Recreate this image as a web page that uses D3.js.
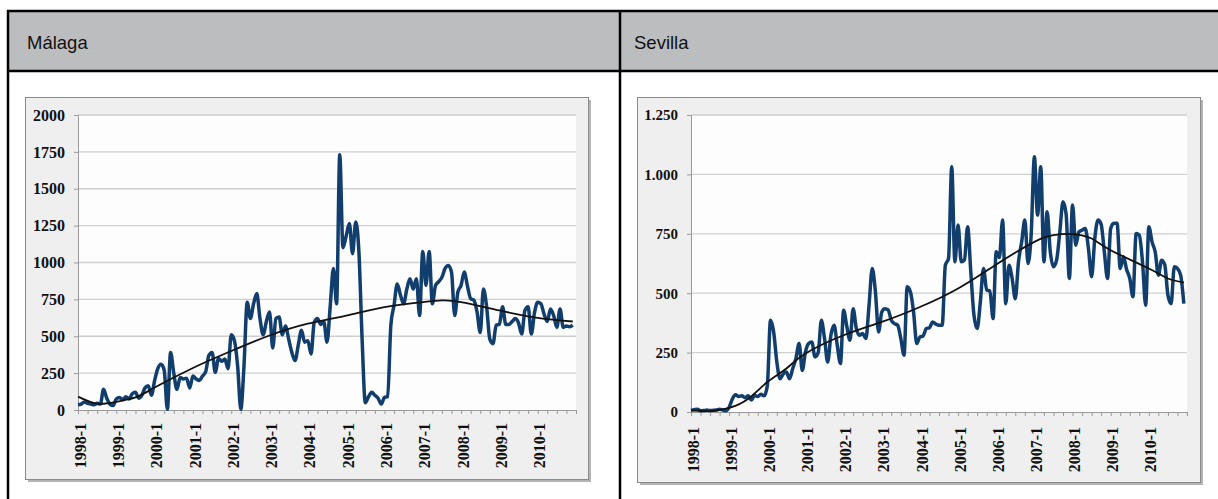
<!DOCTYPE html>
<html>
<head>
<meta charset="utf-8">
<script src="https://cdn.jsdelivr.net/npm/d3@7"></script>
<style>
  body { margin: 0; background: #fff; }
  svg { display: block; }
</style>
</head>
<body>
<div id="tabla"></div>
<script>
// etiquetas del eje x (una cada 12 meses, de 1998-1 a 2010-1)
const xTickLabels = ["1998-1","1999-1","2000-1","2001-1","2002-1","2003-1","2004-1",
                     "2005-1","2006-1","2007-1","2008-1","2009-1","2010-1"];

// valores mensuales 1998-1 .. 2010-12
const malagaValues = [
  35,40,55,45,40,35,45,40,140,80,40,30,
  75,85,70,90,75,110,120,80,100,150,165,100,
  200,280,310,270,5,390,250,140,220,210,215,150,
  230,210,200,230,260,370,390,255,350,330,345,280,
  510,470,300,5,300,730,620,720,790,620,510,600,
  665,420,620,630,510,570,480,390,335,440,540,460,
  470,380,595,620,580,600,460,700,960,720,1730,1100,
  1180,1265,1060,1275,1070,480,50,90,120,100,80,40,
  85,90,575,710,855,780,720,820,890,820,890,640,
  1075,845,1075,720,845,870,900,960,980,935,640,800,
  845,935,840,755,745,665,525,820,700,480,450,575,
  580,700,580,580,600,620,590,515,675,700,515,660,
  730,720,650,600,685,640,560,685,560,570,565,575
];
const sevillaValues = [
  7,10,12,5,6,8,6,7,8,12,8,5,
  20,55,73,65,68,60,68,50,70,65,75,68,
  110,386,337,210,140,160,168,140,183,225,288,175,
  253,288,295,232,250,386,309,210,323,365,281,204,
  428,360,302,435,351,323,330,309,450,604,506,337,
  421,435,430,386,372,365,309,239,527,506,421,288,
  316,320,351,355,379,370,365,365,618,646,1032,632,
  787,632,640,780,590,407,351,463,604,513,510,393,
  674,650,808,456,618,562,477,632,716,808,625,750,
  1074,829,1032,632,843,674,611,640,758,885,830,562,
  871,702,758,765,772,688,569,730,808,790,674,562,
  772,794,794,604,653,600,562,485,751,744,632,449,
  780,716,674,576,639,620,492,456,611,604,576,456
];

// linea de tendencia (mes, valor)
const malagaTrendMonths = [0,6,12,18,24,36,48,60,72,84,96,108,114,120,132,144,155];
const malagaTrendValues = [91,43,55,85,152,285,400,505,585,640,698,732,743,732,675,625,600];
const sevillaTrendMonths = [0,6,12,18,24,30,36,48,60,72,84,96,108,114,120,126,132,144,150,155];
const sevillaTrendValues = [7,4,17,56,126,183,246,323,379,442,520,621,716,744,749,730,681,604,562,545];

const malagaYTicks = [0,250,500,750,1000,1250,1500,1750,2000];
const sevillaYTicks = [0,250,500,750,1000,1250];

var width = 1218;
var height = 499;

var svg = d3.select("#tabla")
    .append("svg")
    .attr("width", width)
    .attr("height", height);

// cabecera gris de la tabla
svg.append("rect")
    .attr("x", 8).attr("y", 11)
    .attr("width", width).attr("height", 60)
    .attr("fill", "#bcbdbf");

svg.append("text").attr("x", 27).attr("y", 49)
    .style("font-family", "Liberation Sans, Arial, sans-serif")
    .style("font-size", "18.5px").attr("fill", "#111")
    .text("Málaga");
svg.append("text").attr("x", 634).attr("y", 49)
    .style("font-family", "Liberation Sans, Arial, sans-serif")
    .style("font-size", "18.5px").attr("fill", "#111")
    .text("Sevilla");

// bordes de la tabla
var lineas = [
    [7, 11, width, 11],
    [7, 71, width, 71],
    [8, 10, 8, height],
    [620, 10, 620, height]
];
svg.selectAll("line.borde")
    .data(lineas)
    .enter()
    .append("line")
    .attr("class", "borde")
    .attr("x1", d => d[0]).attr("y1", d => d[1])
    .attr("x2", d => d[2]).attr("y2", d => d[3])
    .attr("stroke", "#000")
    .attr("stroke-width", 2.5);

var esLocale = d3.formatLocale({decimal: ",", thousands: ".", grouping: [3], currency: ["", ""]});

function crtajGrafico(cfg){
    var g = svg.append("g");

    // marco con sombra
    g.append("rect")
        .attr("x", cfg.frame[0] + 3).attr("y", cfg.frame[1] + 3)
        .attr("width", cfg.frame[2]).attr("height", cfg.frame[3])
        .attr("fill", "#b4b4b4");
    g.append("rect")
        .attr("x", cfg.frame[0] + 0.5).attr("y", cfg.frame[1] + 0.5)
        .attr("width", cfg.frame[2]).attr("height", cfg.frame[3])
        .attr("fill", "#efefef")
        .attr("stroke", "#8a8a8a");

    var x = d3.scaleLinear()
        .domain([0, 156])
        .range([cfg.left, cfg.right]);

    var y = d3.scaleLinear()
        .domain([0, d3.max(cfg.yTicks)])
        .range([cfg.bottom, cfg.top]);

    g.append("rect")
        .attr("x", cfg.left).attr("y", cfg.top)
        .attr("width", cfg.right - cfg.left).attr("height", cfg.bottom - cfg.top)
        .attr("fill", "#fdfdfd");

    // lineas de cuadricula
    g.append("g")
        .selectAll("line")
        .data(cfg.yTicks.filter(d => d > 0))
        .enter()
        .append("line")
        .attr("x1", cfg.left).attr("x2", cfg.right)
        .attr("y1", d => y(d)).attr("y2", d => y(d))
        .attr("stroke", "#cfcfcf")
        .attr("stroke-width", 1.3);

    // eje y
    var ejeY = g.append("g")
        .attr("transform", "translate(" + cfg.left + ",0)")
        .call(d3.axisLeft(y).tickValues(cfg.yTicks).tickSize(4).tickPadding(9).tickFormat(cfg.format));
    ejeY.select(".domain").attr("stroke", "#9a9a9a");
    ejeY.selectAll(".tick line").attr("stroke", "#9a9a9a");
    ejeY.selectAll("text")
        .style("font-family", "Liberation Serif, Times New Roman, serif")
        .style("font-weight", "bold")
        .style("font-size", cfg.yFont + "px")
        .attr("fill", "#111");

    // eje x: marcas cada 3 meses, etiqueta cada 12
    var ejeX = g.append("g")
        .attr("transform", "translate(0," + cfg.bottom + ")")
        .call(d3.axisBottom(x).tickValues(d3.range(0, 157, 3)).tickSize(4).tickFormat(""));
    ejeX.select(".domain").attr("stroke", "#9a9a9a");
    ejeX.selectAll(".tick line").attr("stroke", "#9a9a9a");

    g.append("g")
        .selectAll("text")
        .data(xTickLabels)
        .enter()
        .append("text")
        .attr("transform", (d, i) => "translate(" + (x(i * 12) + 2) + "," + (cfg.bottom + cfg.labelGap) + ") rotate(-90)")
        .attr("dy", "0.35em")
        .style("text-anchor", "end")
        .style("font-family", "Liberation Serif, Times New Roman, serif")
        .style("font-weight", "bold")
        .style("font-size", "16px")
        .attr("fill", "#111")
        .text(d => d);

    // serie mensual
    var linea = d3.line()
        .x((d, i) => x(i))
        .y(d => y(d))
        .curve(d3.curveMonotoneX);

    g.append("path")
        .datum(cfg.values)
        .attr("d", linea)
        .attr("fill", "none")
        .attr("stroke", "#123e6e")
        .attr("stroke-width", 3.5)
        .attr("stroke-linejoin", "round");

    // tendencia
    var tendencia = d3.line()
        .x((d, i) => x(cfg.trendMonths[i]))
        .y(d => y(d))
        .curve(d3.curveNatural);

    g.append("path")
        .datum(cfg.trendValues)
        .attr("d", tendencia)
        .attr("fill", "none")
        .attr("stroke", "#111")
        .attr("stroke-width", 1.8);
}

crtajGrafico({
    frame: [25, 97, 563, 382],
    left: 78, right: 576, top: 115, bottom: 410,
    yTicks: malagaYTicks, format: d3.format("d"), yFont: 16,
    labelGap: 13,
    values: malagaValues, trendMonths: malagaTrendMonths, trendValues: malagaTrendValues
});

crtajGrafico({
    frame: [637, 97, 563, 385],
    left: 691, right: 1187, top: 115, bottom: 412,
    yTicks: sevillaYTicks, format: esLocale.format(",d"), yFont: 15,
    labelGap: 15,
    values: sevillaValues, trendMonths: sevillaTrendMonths, trendValues: sevillaTrendValues
});
</script>
</body>
</html>
